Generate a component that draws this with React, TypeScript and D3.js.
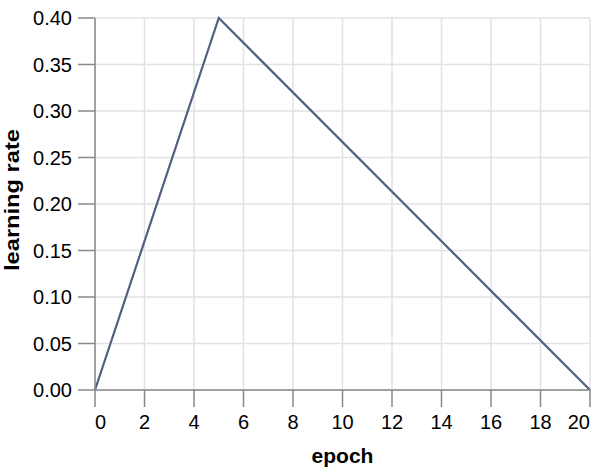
import React from "react";
import * as d3 from "d3";

const epochs = [0, 5, 20];
const learningRates = [0, 0.4, 0];
const xTicks = [0, 2, 4, 6, 8, 10, 12, 14, 16, 18, 20];
const yTicks = [0, 0.05, 0.1, 0.15, 0.2, 0.25, 0.3, 0.35, 0.4];

const W = 606;
const H = 473;
const M = { left: 95, right: 16, top: 18, bottom: 83 };

export default function App() {
  const x = d3.scaleLinear().domain([0, 20]).range([M.left, W - M.right]);
  const y = d3.scaleLinear().domain([0, 0.4]).range([H - M.bottom, M.top]);
  const pts = epochs.map((e, i) => [e, learningRates[i]] as [number, number]);
  const line = d3
    .line<[number, number]>()
    .x((d) => x(d[0]))
    .y((d) => y(d[1]));
  const font = "'Liberation Sans', Arial, Helvetica, sans-serif";
  const x0 = x(0);
  const x1 = x(20);
  const y0 = y(0);
  const y1 = y(0.4);
  const tickLen = 17;
  return (
    <svg
      width={W}
      height={H}
      style={{ position: "absolute", left: 0, top: 0, background: "#fff" }}
      fontFamily={font}
    >
      <g>
        {xTicks.map((t) => (
          <line key={"gx" + t} x1={x(t)} x2={x(t)} y1={y0} y2={y1} stroke="#e2e2e2" strokeWidth={1.5} />
        ))}
        {yTicks.map((t) => (
          <line key={"gy" + t} x1={x0} x2={x1} y1={y(t)} y2={y(t)} stroke="#e2e2e2" strokeWidth={1.5} />
        ))}
      </g>
      <path d={line(pts) || ""} fill="none" stroke="#4f6180" strokeWidth={2.2} />
      {/* x axis */}
      <g>
        <line x1={x0} x2={x1} y1={y0} y2={y0} stroke="#888" strokeWidth={1.5} />
        {xTicks.map((t, i) => (
          <g key={"xt" + t}>
            <line x1={x(t)} x2={x(t)} y1={y0} y2={y0 + tickLen} stroke="#888" strokeWidth={1.5} />
            <text
              x={x(t)}
              y={y0 + 39}
              fontSize={20}
              fill="#000"
              textAnchor={i === 0 ? "start" : i === xTicks.length - 1 ? "end" : "middle"}
            >
              {t}
            </text>
          </g>
        ))}
        <text x={(x0 + x1) / 2} y={463} fontSize={21} fontWeight="bold" textAnchor="middle" fill="#000">
          epoch
        </text>
      </g>
      {/* y axis */}
      <g>
        <line x1={x0} x2={x0} y1={y0} y2={y1} stroke="#888" strokeWidth={1.5} />
        {yTicks.map((t) => (
          <g key={"yt" + t}>
            <line x1={x0 - tickLen} x2={x0} y1={y(t)} y2={y(t)} stroke="#888" strokeWidth={1.5} />
            <text x={x0 - 23} y={y(t) + 7} fontSize={20} fill="#000" textAnchor="end">
              {d3.format(".2f")(t)}
            </text>
          </g>
        ))}
        <text
          transform={`translate(19, ${(y0 + y1) / 2 - 4}) rotate(-90)`}
          fontSize={20}
          fontWeight="bold"
          textAnchor="middle"
          fill="#000"
          textLength={142}
          lengthAdjust="spacingAndGlyphs"
        >
          learning rate
        </text>
      </g>
    </svg>
  );
}
